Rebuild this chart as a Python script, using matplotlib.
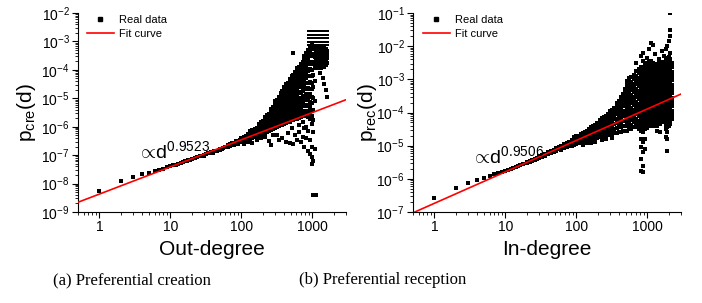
import numpy as np
import matplotlib
matplotlib.use("Agg")
import matplotlib.pyplot as plt
from matplotlib.ticker import LogLocator, NullFormatter, FixedLocator, FixedFormatter
from matplotlib.lines import Line2D

plt.rcParams['font.family'] = ['Liberation Sans', 'DejaVu Sans']
plt.rcParams['mathtext.fontset'] = 'custom'
plt.rcParams['mathtext.rm'] = 'Liberation Sans'
plt.rcParams['mathtext.it'] = 'Liberation Sans:italic'

# ---- (a) out-degree vs p_cre(d): rows of (degree, [log10 p, ...]) ----
cre_rows = [
    (1, [-8.27]), (2, [-7.91]), (3, [-7.76]), (4, [-7.67]), (5, [-7.62]),
    (6, [-7.56]), (7, [-7.52]), (8, [-7.47]), (9, [-7.43]), (10, [-7.39]),
    (11, [-7.36]), (12, [-7.33]), (13, [-7.30]), (14, [-7.27]), (15, [-7.25]),
    (16, [-7.22]), (17, [-7.20]), (18, [-7.18]), (19, [-7.16]), (20, [-7.14]),
    (22, [-7.10]), (24, [-7.07]), (26, [-7.04]), (28, [-7.02]),
    (30, [-6.99, -7.03]), (32, [-6.97]), (34, [-6.94]), (36, [-6.93]),
    (38, [-6.90]), (40, [-6.89, -6.93]), (42, [-6.87]), (45, [-6.85]),
    (48, [-6.82]), (50, [-6.81, -6.78]), (53, [-6.78]), (56, [-6.76]),
    (60, [-6.73, -6.70]), (65, [-6.70, -6.66]), (70, [-6.67, -6.62]),
    (75, [-6.63, -6.58]), (80, [-6.61, -6.56, -6.66]), (85, [-6.58, -6.52]),
    (90, [-6.55, -6.50, -6.60]), (95, [-6.52, -6.47]),
    (100, [-6.55, -6.46, -6.41]),
    (108, [-6.51, -6.44, -6.36, -6.60]),
    (116, [-6.50, -6.39, -6.33]),
    (125, [-6.45, -6.38, -6.27, -6.53]),
    (134, [-6.43, -6.32, -6.25, -6.16]),
    (144, [-6.39, -6.31, -6.20, -6.13, -6.58]),
    (154, [-6.37, -6.26, -6.18, -6.07]),
    (165, [-6.34, -6.25, -6.12, -6.04, -6.46]),
    (177, [-6.32, -6.19, -6.10, -5.97, -5.91]),
    (190, [-6.27, -6.17, -6.04, -5.95, -5.85, -6.40]),
    (203, [-6.26, -6.12, -6.02, -5.88, -5.81, -6.31]),
    (217, [-6.21, -6.11, -5.96, -5.86, -5.73, -5.67, -6.37]),
    (232, [-6.19, -6.05, -5.94, -5.79, -5.70, -5.58]),
    (248, [-6.14, -6.03, -5.88, -5.77, -5.63, -5.54, -6.50]),
    (264, [-6.13, -5.97, -5.87, -5.71, -5.60, -5.45, -5.39, -6.63]),
    (281, [-6.07, -5.96, -5.80, -5.69, -5.53, -5.42, -5.29, -6.28]),
    (299, [-6.06, -5.90, -5.79, -5.62, -5.50, -5.34, -5.24, -5.11]),
    (318, [-6.00, -5.89, -5.73, -5.61, -5.44, -5.33, -5.16, -5.05, -6.30]),
    (338, [-5.99, -5.83, -5.72, -5.55, -5.42, -5.25, -5.13, -4.97, -6.46]),
    (359, [-5.94, -5.82, -5.66, -5.54, -5.36, -5.24, -5.06, -4.94, -4.82]),
    (381, [-5.93, -5.77, -5.65, -5.47, -5.35, -5.16, -5.04, -4.86, -4.76, -6.41]),
    (405, [-5.89, -5.76, -5.58, -5.46, -5.27, -5.15, -4.96, -4.84, -4.67, -4.60]),
    (430, [-5.88, -5.71, -5.59, -5.39, -5.27, -5.07, -4.95, -4.75, -4.63, -4.50, -6.55]),
    (456, [-5.83, -5.70, -5.52, -5.39, -5.19, -5.07, -4.87, -4.74, -4.55, -4.46, -6.21]),
    (484, [-5.83, -5.65, -5.52, -5.32, -5.20, -4.99, -4.86, -4.66, -4.53, -4.38, -4.31,
           -6.58]),
    (514, [-5.78, -5.64, -5.46, -5.32, -5.12, -4.99, -4.78, -4.64, -4.45, -4.34, -4.23,
           -6.05]),
    (545, [-5.77, -5.59, -5.45, -5.26, -5.12, -4.92, -4.78, -4.57, -4.43, -4.26, -4.19,
           -3.42, -6.60]),
    (578, [-5.73, -5.58, -5.40, -5.26, -5.05, -4.91, -4.70, -4.56, -4.35, -4.23, -4.09,
           -6.30]),
    (613, [-5.72, -5.54, -5.40, -5.20, -5.05, -4.84, -4.69, -4.48, -4.33, -4.15, -4.03,
           -3.93, -6.45]),
    (650, [-5.68, -5.53, -5.34, -5.19, -4.98, -4.83, -4.62, -4.47, -4.26, -4.12, -3.95,
           -3.89, -5.95, -6.20]),
    (690, [-5.67, -5.48, -5.34, -5.13, -4.98, -4.77, -4.61, -4.40, -4.24, -4.04, -3.90,
           -3.79, -6.55]),
    (732, [-5.63, -5.48, -5.28, -5.13, -4.91, -4.76, -4.54, -4.38, -4.17, -4.01, -3.82,
           -3.73, -6.35, -5.85]),
    (776, [-5.62, -5.43, -5.28, -5.07, -4.91, -4.69, -4.53, -4.31, -4.15, -3.94, -3.77,
           -3.61, -3.53, -6.70, -6.05]),
    (823, [-5.58, -5.43, -5.22, -5.07, -4.85, -4.69, -4.46, -4.30, -4.08, -3.91, -3.69,
           -3.55, -3.40, -6.40, -6.00]),
    (873, [-5.65, -5.44, -5.27, -5.04, -4.87, -4.63, -4.46, -4.22, -4.05, -3.81, -3.64,
           -3.44, -3.31, -6.85, -6.15]),
    (925, [-5.73, -5.55, -5.30, -5.12, -4.86, -4.68, -4.42, -4.23, -3.97, -3.78, -3.53,
           -3.37, -3.19, -6.95, -6.45]),
    (980, [-5.90, -5.64, -5.43, -5.16, -4.95, -4.68, -4.47, -4.20, -3.99, -3.72, -3.51,
           -3.27, -3.11, -7.05, -6.70, -7.31]),
    (1030, [-6.20, -5.78, -5.41, -4.98, -4.61, -4.18, -3.81, -3.43, -3.16, -7.20, -8.41]),
    (1080, [-5.10, -4.40, -3.90, -3.55, -3.25, -6.80]),
    (1130, [-8.41, -3.75, -3.40]),
    (1150, [-3.22, -3.33, -3.44, -3.56, -3.68, -3.80, -3.95]),
    (1210, [-3.20, -3.31, -3.42, -3.53, -3.65, -3.78, -3.92]),
    (1270, [-3.24, -3.36, -3.47, -3.58, -3.70, -3.84, -4.10]),
    (1340, [-3.21, -3.32, -3.44, -3.55, -3.67, -3.80, -3.95]),
    (1410, [-3.25, -3.37, -3.49, -3.61, -3.73, -3.88, -4.30]),
    (1480, [-3.22, -3.34, -3.46, -3.58, -3.72, -3.90, -4.50]),
    (1550, [-3.28, -3.40, -3.52, -3.66, -3.82, -4.70]),
    (1620, [-3.32, -3.45, -3.60, -3.76, -4.95]),
]
# the quantised rows at the top of the out-degree cloud
cre_bar_levels = [-2.65, -2.77, -2.89, -3.01, -3.12]
cre_bar_deg = [860, 890, 930, 960, 1000, 1040, 1090, 1140, 1190, 1250, 1310,
               1370, 1430, 1490, 1560, 1630, 1690]

# ---- (b) in-degree vs p_rec(d) ----
rec_rows = [
    (1, [-6.59]), (2, [-6.29]), (3, [-6.12]), (4, [-6.04]), (5, [-5.97]),
    (6, [-5.91]), (7, [-5.86]), (8, [-5.82]), (9, [-5.78]), (10, [-5.75]),
    (11, [-5.72]), (12, [-5.69]), (13, [-5.66]), (14, [-5.63]), (15, [-5.61]),
    (16, [-5.58]), (18, [-5.54]), (20, [-5.50, -5.52]), (22, [-5.46, -5.48]),
    (24, [-5.43, -5.45]), (26, [-5.40, -5.42]), (28, [-5.37, -5.39]),
    (30, [-5.34, -5.36, -5.31]), (33, [-5.31, -5.28, -5.33]),
    (36, [-5.27, -5.25, -5.30]), (40, [-5.23, -5.20, -5.26]),
    (44, [-5.19, -5.16, -5.22]), (48, [-5.15, -5.12, -5.18]),
    (52, [-5.12, -5.08, -5.15]), (57, [-5.08, -5.04, -5.11]),
    (62, [-5.04, -5.00, -5.08, -5.12]), (68, [-5.00, -4.96, -5.04, -5.08]),
    (74, [-4.96, -4.92, -5.00, -5.05]), (80, [-4.93, -4.88, -4.97, -5.02]),
    (87, [-4.90, -4.84, -4.94, -5.00]), (94, [-4.86, -4.80, -4.91, -4.97, -4.75]),
    (100, [-4.95, -4.86, -4.79, -4.72]),
    (107, [-4.93, -4.84, -4.77, -4.70]),
    (115, [-4.92, -4.82, -4.74, -4.66]),
    (123, [-4.90, -4.80, -4.71, -4.63, -4.97]),
    (132, [-4.88, -4.78, -4.69, -4.60]),
    (141, [-4.86, -4.76, -4.66, -4.57, -4.93]),
    (151, [-4.84, -4.74, -4.64, -4.54, -4.49]),
    (162, [-4.83, -4.72, -4.61, -4.51, -4.45, -4.91]),
    (173, [-4.81, -4.70, -4.59, -4.48, -4.41]),
    (186, [-4.79, -4.68, -4.57, -4.45, -4.37, -4.88]),
    (199, [-4.77, -4.66, -4.54, -4.43, -4.33]),
    (213, [-4.75, -4.64, -4.52, -4.40, -4.29, -4.22]),
    (228, [-4.73, -4.61, -4.49, -4.37, -4.26, -4.18, -4.84]),
    (245, [-4.71, -4.59, -4.47, -4.35, -4.23, -4.14]),
    (262, [-4.69, -4.57, -4.44, -4.32, -4.20, -4.10, -4.80]),
    (281, [-4.67, -4.55, -4.42, -4.29, -4.17, -4.06]),
    (301, [-4.66, -4.53, -4.40, -4.27, -4.14, -4.02, -3.96]),
    (322, [-4.64, -4.51, -4.37, -4.24, -4.11, -3.98, -3.91, -4.76]),
    (345, [-4.62, -4.49, -4.35, -4.21, -4.08, -3.94, -3.86]),
    (370, [-4.61, -4.47, -4.33, -4.19, -4.05, -3.91, -3.80, -3.72]),
    (396, [-4.59, -4.45, -4.31, -4.16, -4.02, -3.87, -3.75, -3.66]),
    (424, [-4.58, -4.43, -4.29, -4.14, -3.99, -3.84, -3.70, -3.60, -3.52]),
    (454, [-4.57, -4.42, -4.27, -4.12, -3.96, -3.81, -3.66, -3.53, -3.44]),
    (486, [-4.56, -4.40, -4.25, -4.09, -3.94, -3.78, -3.62, -3.48, -3.37, -3.28]),
    (520, [-4.55, -4.42, -4.29, -4.16, -4.03, -3.90, -3.77, -3.64, -3.51, -3.38, -3.25,
           -3.14, -3.05]),
    (557, [-4.48, -4.35, -4.22, -4.09, -3.96, -3.83, -3.70, -3.57, -3.44, -3.31, -3.18,
           -3.06, -2.97]),
    (600, [-4.50, -4.37, -4.24, -4.11, -3.98, -3.85, -3.72, -3.59, -3.46, -3.33, -3.20,
           -3.07, -2.94]),
    (650, [-4.43, -4.30, -4.17, -4.04, -3.91, -3.78, -3.65, -3.52, -3.39, -3.26, -3.13,
           -3.00, -2.87]),
    (700, [-4.45, -4.32, -4.19, -4.06, -3.93, -3.80, -3.67, -3.54, -3.41, -3.28, -3.15,
           -3.02, -2.89, -2.76, -2.50]),
    (760, [-4.51, -4.38, -4.25, -4.12, -3.99, -3.86, -3.73, -3.60, -3.47, -3.34, -3.21,
           -3.08, -2.95, -2.82, -2.70]),
    (820, [-4.55, -4.42, -4.29, -4.16, -4.03, -3.90, -3.77, -3.64, -3.51, -3.38, -3.25,
           -3.12, -2.99, -2.86, -2.73, -2.62, -2.30, -4.80, -5.05, -5.40, -5.75]),
    (880, [-4.60, -4.47, -4.34, -4.21, -4.08, -3.95, -3.82, -3.69, -3.56, -3.43, -3.30,
           -3.17, -3.04, -2.91, -2.78, -2.66, -2.45, -4.90, -5.20, -5.60, -5.80, -2.20]),
    (940, [-4.50, -4.37, -4.24, -4.11, -3.98, -3.85, -3.72, -3.59, -3.46, -3.33, -3.20,
           -3.07, -2.94, -2.81, -2.68, -2.57, -4.80, -5.10]),
    (1000, [-4.46, -4.33, -4.20, -4.07, -3.94, -3.81, -3.68, -3.55, -3.42, -3.29, -3.16,
            -3.03, -2.90, -2.77, -2.64, -2.52, -2.35]),
    (1070, [-4.40, -4.27, -4.14, -4.01, -3.88, -3.75, -3.62, -3.49, -3.36, -3.23, -3.10,
            -2.97, -2.84, -2.71, -2.58, -2.48, -2.10]),
    (1140, [-4.35, -4.22, -4.09, -3.96, -3.83, -3.70, -3.57, -3.44, -3.31, -3.18, -3.05,
            -2.92, -2.79, -2.66, -2.53, -2.44, -1.90]),
    (1210, [-4.40, -4.29, -4.16, -4.03, -3.90, -3.77, -3.64, -3.51, -3.38, -3.25, -3.12,
            -2.99, -2.86, -2.73, -2.60, -2.50, -1.95]),
    (1290, [-4.35, -4.22, -4.09, -3.96, -3.83, -3.70, -3.57, -3.44, -3.31, -3.18, -3.05,
            -2.92, -2.79, -2.66, -2.55, -2.25]),
    (1370, [-4.55, -4.40, -4.28, -4.15, -4.02, -3.89, -3.76, -3.63, -3.50, -3.37, -3.24,
            -3.11, -2.98, -2.85, -2.72, -2.59]),
    (1450, [-4.30, -4.17, -4.04, -3.91, -3.78, -3.65, -3.52, -3.39, -3.26, -3.13, -3.00,
            -2.87, -2.74, -2.61, -2.50, -2.40]),
    (1540, [-4.60, -4.36, -4.23, -4.10, -3.97, -3.84, -3.71, -3.58, -3.45, -3.32, -3.19,
            -3.06, -2.93, -2.80, -2.67, -2.56]),
    (1630, [-4.25, -4.12, -3.99, -3.86, -3.73, -3.60, -3.47, -3.34, -3.21, -3.08, -2.95,
            -2.82, -2.69, -2.57, -2.48, -2.15]),
    (1730, [-4.30, -4.18, -4.05, -3.92, -3.79, -3.66, -3.53, -3.40, -3.27, -3.14, -3.01,
            -2.88, -2.75, -2.62, -2.50, -2.30]),
    (1830, [-4.75, -4.50, -4.37, -4.24, -4.11, -3.98, -3.85, -3.72, -3.59, -3.46, -3.33,
            -3.20, -3.07, -2.94, -2.81, -2.68, -2.55, -2.42, -2.10]),
    (1930, [-5.15, -4.80, -4.60, -4.43, -4.30, -4.17, -4.04, -3.91, -3.78, -3.65, -3.52,
            -3.39, -3.26, -3.13, -3.00, -2.87, -2.74, -2.61, -2.48, -2.36, -2.00]),
    (2030, [-4.40, -4.27, -4.14, -4.01, -3.88, -3.75, -3.62, -3.49, -3.36, -3.23, -3.10,
            -2.97, -2.84, -2.71, -2.58, -2.45, -2.32, -1.85]),
    (2130, [-4.35, -4.22, -4.09, -3.96, -3.83, -3.70, -3.57, -3.44, -3.31, -3.18, -3.05,
            -2.92, -2.79, -2.66, -2.53, -2.40, -2.22, -1.70, -1.50, -1.00]),
    (2240, [-4.20, -4.07, -3.94, -3.81, -3.68, -3.55, -3.42, -3.29, -3.16, -3.03, -2.90,
            -2.77, -2.64, -2.52]),
]

# fitted power laws, endpoints
cre_fit_x = [0.5, 3000]
cre_fit_y = [2.2e-9, 8.9e-6]
rec_fit_x = [0.53, 3000]
rec_fit_y = [1.0e-7, 3.6e-4]

x_ticks = [1, 10, 100, 1000]
x_tick_labels = ['1', '10', '100', '1000']


def flatten(rows):
    d, p = [], []
    for deg, vals in rows:
        for v in vals:
            d.append(deg)
            p.append(10.0 ** v)
    return np.array(d), np.array(p)


cre_d, cre_p = flatten(cre_rows)
bar_d, bar_p = flatten([(x, cre_bar_levels) for x in cre_bar_deg])
rec_d, rec_p = flatten(rec_rows)

fig = plt.figure(figsize=(7.02, 3.03), dpi=100)
ax1 = fig.add_axes([78 / 702, 91 / 303, 268 / 702, 199 / 303])
ax2 = fig.add_axes([413 / 702, 91 / 303, 268 / 702, 199 / 303])


def style_axes(ax, ylim, xlabel, ylabel, ylab_x):
    ax.set_xscale('log')
    ax.set_yscale('log')
    ax.set_xlim(0.5, 3000)
    ax.set_ylim(*ylim)
    ax.xaxis.set_major_locator(FixedLocator(x_ticks))
    ax.xaxis.set_major_formatter(FixedFormatter(x_tick_labels))
    ax.xaxis.set_minor_locator(LogLocator(base=10, subs=np.arange(2, 10), numticks=20))
    ax.xaxis.set_minor_formatter(NullFormatter())
    ax.yaxis.set_major_locator(LogLocator(base=10, numticks=20))
    ax.yaxis.set_minor_locator(LogLocator(base=10, subs=np.arange(2, 10), numticks=20))
    ax.yaxis.set_minor_formatter(NullFormatter())
    ax.spines['top'].set_visible(False)
    ax.spines['right'].set_visible(False)
    ax.tick_params(which='major', direction='out', length=4, width=0.8, labelsize=10, pad=2)
    ax.tick_params(which='minor', direction='out', length=2, width=0.6)
    ax.set_xlabel(xlabel, fontsize=15, labelpad=4)
    ax.set_ylabel(ylabel, fontsize=15)
    ax.yaxis.set_label_coords(ylab_x, 0.5)


ax1.scatter(cre_d, cre_p, marker='s', s=5.5, color='black', linewidths=0, zorder=2)
ax1.scatter(bar_d, bar_p, marker='s', s=3.5, color='black', linewidths=0, zorder=2)
ax1.plot(cre_fit_x, cre_fit_y, color='red', lw=1.2, zorder=3)
style_axes(ax1, (1e-9, 1e-2), 'Out-degree', r'p$_{\rm cre}$(d)', -0.15)
ax1.text(0.22, 0.27, r'$\propto\!$d$^{0.9523}$', transform=ax1.transAxes,
         fontsize=14, va='baseline', ha='left')

ax2.scatter(rec_d, rec_p, marker='s', s=5.5, color='black', linewidths=0, zorder=2)
ax2.plot(rec_fit_x, rec_fit_y, color='red', lw=1.2, zorder=3)
style_axes(ax2, (1e-7, 1e-1), 'In-degree', r'p$_{\rm rec}$(d)', -0.128)
ax2.text(0.215, 0.246, r'$\propto\!$d$^{0.9506}$', transform=ax2.transAxes,
         fontsize=14, va='baseline', ha='left')

handles = [Line2D([], [], marker='s', markersize=2.5, color='black', linestyle='none'),
           Line2D([], [], color='red', lw=1.2)]
for ax, x0 in ((ax1, 0.034), (ax2, 0.037)):
    ax.legend(handles, ['Real data', 'Fit curve'], loc='upper left',
              bbox_to_anchor=(x0, 0.99), frameon=False, fontsize=8,
              handlelength=2.4, handletextpad=0.5, labelspacing=0.35,
              borderpad=0, borderaxespad=0)

fig.text(132 / 702, 1 - 280 / 303, '(a) Preferential creation',
         family='Liberation Serif', fontsize=12, ha='center', va='center')
fig.text(383 / 702, 1 - 280 / 303, '(b) Preferential reception',
         family='Liberation Serif', fontsize=12, ha='center', va='center')

fig.savefig('out.png', dpi=100)
